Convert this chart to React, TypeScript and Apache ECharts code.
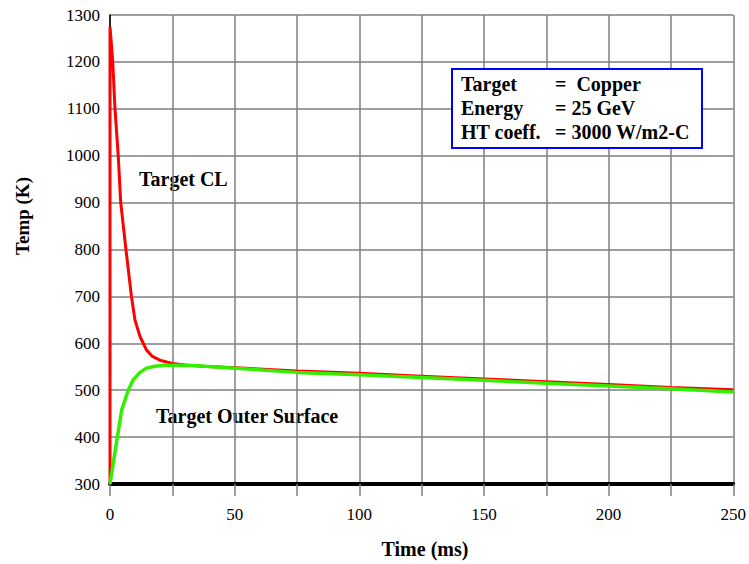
import React, { useEffect, useRef } from "react";
import * as echarts from "echarts";

// Target centerline temperature (K) vs time (ms)
const clTime = [0, 0, 1.1, 2, 3.3, 4.3, 6.4, 8.6, 10, 12, 14.6, 17, 20, 25, 30, 37, 50, 75, 100, 125, 150, 175, 200, 225, 250];
const clTemp = [300, 1275, 1200, 1100, 1000, 900, 800, 700, 650, 615, 586, 572, 564, 557, 554, 551, 548, 541, 536, 530, 524, 518, 512, 506, 501];

// Target outer surface temperature (K) vs time (ms)
const surfTime = [0, 1.3, 4.7, 7.3, 9.3, 12, 14.6, 18, 22, 28, 35, 50, 75, 100, 125, 150, 175, 200, 225, 250];
const surfTemp = [300, 345, 458, 500, 522, 538, 547, 551, 553, 553, 552, 547, 538, 533, 527, 521, 515, 509, 503, 496];

const infoKeys = ["Target", "Energy", "HT coeff."];
const infoValues = ["=  Copper", "= 25 GeV", "= 3000 W/m2-C"];

const FONT = "'Liberation Serif', 'Times New Roman', serif";
const GRID_GRAY = "#7f7f7f";

export default function App() {
  const ref = useRef<HTMLDivElement>(null);

  useEffect(() => {
    if (!ref.current) return;
    const chart = echarts.init(ref.current, undefined, { renderer: "svg" });

    const pairs = (xs: number[], ys: number[]) => xs.map((x, i) => [x, ys[i]]);

    const boxText: any[] = [];
    infoKeys.forEach((k, i) => {
      const y = 84 + i * 23.8;
      boxText.push({
        type: "text",
        x: 461,
        y,
        style: { text: k, font: `bold 20px ${FONT}`, fill: "#000", verticalAlign: "middle" },
      });
      boxText.push({
        type: "text",
        x: 555,
        y,
        style: { text: infoValues[i], font: `bold 20px ${FONT}`, fill: "#000", verticalAlign: "middle" },
      });
    });

    chart.setOption({
      animation: false,
      backgroundColor: "#ffffff",
      grid: { left: 110, right: 11, top: 15, bottom: 80 },
      xAxis: {
        type: "value",
        min: 0,
        max: 250,
        interval: 25,
        axisLine: { show: true, lineStyle: { color: "#000", width: 4 } },
        axisTick: { show: true, length: 12, lineStyle: { color: GRID_GRAY, width: 1.5 } },
        axisLabel: {
          margin: 22,
          fontFamily: FONT,
          fontSize: 17,
          color: "#000",
          formatter: (v: number) => (v % 50 === 0 ? String(v) : ""),
        },
        splitLine: { show: true, lineStyle: { color: GRID_GRAY, width: 1.5 } },
      },
      yAxis: {
        type: "value",
        min: 300,
        max: 1300,
        interval: 100,
        axisLine: { show: true, lineStyle: { color: "#000", width: 1.5 } },
        axisTick: { show: false },
        axisLabel: {
          margin: 10,
          fontFamily: FONT,
          fontSize: 17,
          color: "#000",
          formatter: (v: number) => String(v),
        },
        splitLine: { show: true, lineStyle: { color: GRID_GRAY, width: 1.5 } },
      },
      series: [
        {
          name: "Target CL",
          type: "line",
          data: pairs(clTime, clTemp),
          showSymbol: false,
          lineStyle: { color: "#ff0000", width: 3 },
          z: 3,
        },
        {
          name: "Target Outer Surface",
          type: "line",
          data: pairs(surfTime, surfTemp),
          showSymbol: false,
          lineStyle: { color: "#33ee00", width: 3.5 },
          z: 4,
        },
      ],
      graphic: [
        {
          type: "text",
          x: 22,
          y: 216,
          rotation: Math.PI / 2,
          style: {
            text: "Temp (K)",
            font: `bold 19px ${FONT}`,
            fill: "#000",
            align: "center",
            verticalAlign: "middle",
          },
        },
        {
          type: "text",
          x: 425,
          y: 549,
          style: {
            text: "Time (ms)",
            font: `bold 20px ${FONT}`,
            fill: "#000",
            align: "center",
            verticalAlign: "middle",
          },
        },
        {
          type: "text",
          x: 139,
          y: 179,
          style: { text: "Target CL", font: `bold 20px ${FONT}`, fill: "#000", verticalAlign: "middle" },
        },
        {
          type: "text",
          x: 156,
          y: 416,
          style: { text: "Target Outer Surface", font: `bold 20px ${FONT}`, fill: "#000", verticalAlign: "middle" },
        },
        {
          type: "rect",
          shape: { x: 452, y: 69, width: 250, height: 79 },
          style: { fill: "#ffffff", stroke: "#0000ff", lineWidth: 2 },
          z: 10,
        },
        ...boxText.map((t) => ({ ...t, z: 11 })),
      ],
    });

    return () => chart.dispose();
  }, []);

  return (
    <div
      ref={ref}
      style={{ position: "fixed", left: 0, top: 0, width: 749, height: 564 }}
    />
  );
}
